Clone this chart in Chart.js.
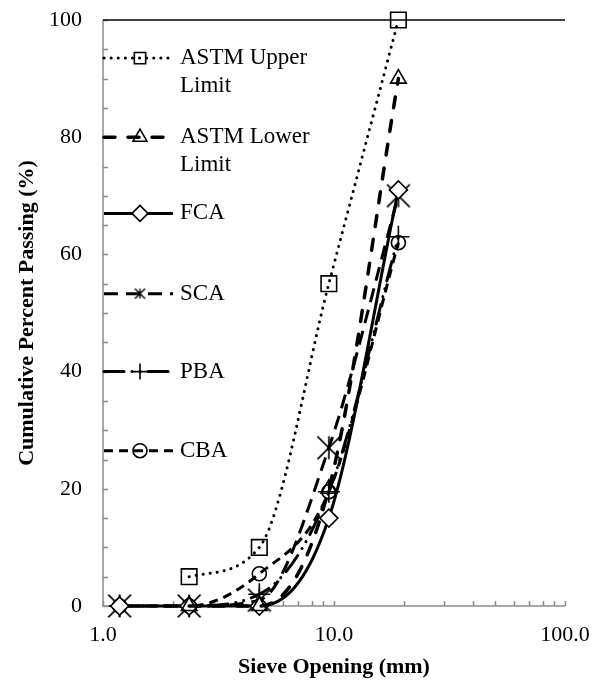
<!DOCTYPE html>
<html>
<head>
<meta charset="utf-8">
<script src="https://cdn.jsdelivr.net/npm/chart.js@4/dist/chart.umd.min.js"></script>
<style>
  html, body { margin: 0; padding: 0; background: #fff; }
</style>
</head>
<body>
<canvas id="sieveChart" width="610" height="686"></canvas>
<script>
// sieve openings (mm) and cumulative percent passing per aggregate
const sieveSizes = [1.18, 2.36, 4.75, 9.5, 19];
const astmUpper = [null, 5, 10, 55, 100];
const astmLower = [null, 0, 0, 20, 90];
const fca = [0, 0, 0, 15, 71];
const sca = [0, 0, 1, 27, 70];
const pba = [0, 0, 2, 19.5, 63];
const cba = [0, 0, 5.5, 19.5, 62];
const seriesNames = ['ASTM Upper Limit', 'ASTM Lower Limit', 'FCA', 'SCA', 'PBA', 'CBA'];
const yLabels = [0, 20, 40, 60, 80, 100];
const xLabels = [1, 10, 100];

const serif = "'Liberation Serif', 'Times New Roman', serif";
Chart.defaults.font.family = serif;
Chart.defaults.font.size = 22;
Chart.defaults.color = '#000';

const toPoints = vals => sieveSizes
  .map((s, i) => ({ x: s, y: vals[i] }))
  .filter(p => p.y !== null);

// Excel style star marker: X with a vertical stroke
const makeStar = (size, lw) => {
  const c = document.createElement('canvas');
  c.width = size; c.height = size;
  const g = c.getContext('2d');
  g.strokeStyle = '#000';
  g.lineWidth = lw;
  const m = lw;
  g.beginPath();
  g.moveTo(m, m); g.lineTo(size - m, size - m);
  g.moveTo(size - m, m); g.lineTo(m, size - m);
  g.moveTo(size / 2, m); g.lineTo(size / 2, size - m);
  g.stroke();
  return c;
};
const starBig = makeStar(26, 1.6);
const starSmall = makeStar(13, 1.4);

const base = {
  borderColor: '#000',
  pointBorderColor: '#000',
  pointBackgroundColor: 'rgba(0,0,0,0)',
  pointBorderWidth: 1.6,
  cubicInterpolationMode: 'monotone',
  clip: false,
  showLine: true
};

const datasets = [
  { ...base, label: seriesNames[0], data: toPoints(astmUpper), borderWidth: 3,
    borderDash: [0.1, 7], borderCapStyle: 'round', pointStyle: 'rect', pointRadius: 11 },
  { ...base, label: seriesNames[1], data: toPoints(astmLower), borderWidth: 3.5,
    borderDash: [11, 13], borderCapStyle: 'round', pointStyle: 'triangle', pointRadius: 9 },
  { ...base, label: seriesNames[2], data: toPoints(fca), borderWidth: 3,
    pointStyle: 'rectRot', pointRadius: 9, pointBackgroundColor: '#fff' },
  { ...base, label: seriesNames[3], data: toPoints(sca), borderWidth: 3,
    borderDash: [14, 8], pointStyle: starBig, pointRadius: 13 },
  { ...base, label: seriesNames[4], data: toPoints(pba), borderWidth: 3,
    borderDash: [20, 8, 0.1, 8, 0.1, 8], borderCapStyle: 'round', pointStyle: 'cross', pointRadius: 11 },
  { ...base, label: seriesNames[5], data: toPoints(cba), borderWidth: 3,
    borderDash: [9, 6], pointStyle: 'circle', pointRadius: 7 }
];

const isDecade = v => Math.abs(Math.log10(v) - Math.round(Math.log10(v))) < 1e-9;

// axis lines and inward tick marks
const axisFrame = {
  id: 'axisFrame',
  beforeDatasetsDraw(chart) {
    const { ctx, chartArea: a, scales: { x, y } } = chart;
    ctx.save();
    ctx.strokeStyle = '#8c8c8c';
    ctx.lineWidth = 1.5;
    ctx.beginPath();
    for (let v = 0; v <= 100; v += 5) {
      const py = Math.round(y.getPixelForValue(v)) + 0.5;
      ctx.moveTo(a.left, py); ctx.lineTo(a.left + 5, py);
    }
    for (let d = 1; d < 100; d *= 10) {
      for (let k = 1; k <= 10; k++) {
        const px = Math.round(x.getPixelForValue(d * k)) + 0.5;
        ctx.moveTo(px, a.bottom); ctx.lineTo(px, a.bottom - 5);
      }
    }
    ctx.stroke();
    ctx.beginPath();
    ctx.moveTo(a.left, a.top); ctx.lineTo(a.left, a.bottom); ctx.lineTo(a.right, a.bottom);
    ctx.stroke();
    ctx.strokeStyle = '#000';
    ctx.beginPath();
    ctx.moveTo(a.left, a.top); ctx.lineTo(a.right, a.top);
    ctx.stroke();
    ctx.restore();
  }
};

// legend drawn inside the plot, Excel style (line sample + marker + wrapped text)
const legendRows = [
  { lines: ['ASTM Upper', 'Limit'], at: 93.5 },
  { lines: ['ASTM Lower', 'Limit'], at: 80 },
  { lines: ['FCA'], at: 67 },
  { lines: ['SCA'], at: 53.3 },
  { lines: ['PBA'], at: 40 },
  { lines: ['CBA'], at: 26.5 }
];
const insideLegend = {
  id: 'insideLegend',
  afterDatasetsDraw(chart) {
    const { ctx, chartArea: a, scales: { y } } = chart;
    const x0 = a.left + 1, x1 = a.left + 70, xm = a.left + 37, xt = a.left + 77;
    ctx.save();
    legendRows.forEach((row, i) => {
      const ds = chart.data.datasets[i];
      const ry = y.getPixelForValue(row.at);
      ctx.strokeStyle = '#000';
      ctx.lineWidth = ds.borderWidth;
      ctx.lineCap = ds.borderCapStyle || 'butt';
      ctx.setLineDash(ds.borderDash || []);
      ctx.beginPath();
      ctx.moveTo(x0, ry); ctx.lineTo(x1, ry);
      ctx.stroke();
      ctx.setLineDash([]);
      ctx.lineCap = 'butt';
      if (ds.pointStyle === starBig) {
        ctx.drawImage(starSmall, xm - 6.5, ry - 6.5);
      } else {
        ctx.fillStyle = ds.pointBackgroundColor;
        ctx.lineWidth = 1.6;
        Chart.helpers.drawPoint(ctx, {
          pointStyle: ds.pointStyle, radius: Math.min(ds.pointRadius, 8), rotation: 0, borderWidth: 1.6
        }, xm, ry);
      }
      ctx.fillStyle = '#000';
      ctx.font = '23px ' + serif;
      ctx.textBaseline = 'middle';
      ctx.textAlign = 'left';
      row.lines.forEach((t, j) => ctx.fillText(t, xt, ry + j * 28));
    });
    ctx.restore();
  }
};

new Chart(document.getElementById('sieveChart'), {
  type: 'scatter',
  data: { datasets },
  plugins: [axisFrame, insideLegend],
  options: {
    responsive: false,
    animation: false,
    devicePixelRatio: 1,
    layout: { autoPadding: false, padding: { left: 0, right: 45, top: 20, bottom: 0 } },
    plugins: { legend: { display: false }, tooltip: { enabled: false } },
    scales: {
      x: {
        type: 'logarithmic',
        min: 1,
        max: 100,
        grid: { display: false, drawTicks: false, tickLength: 0 },
        border: { display: false },
        afterFit: s => { s.height = 80; },
        ticks: {
          autoSkip: false,
          maxRotation: 0,
          padding: 16,
          callback: v => (xLabels.includes(v) || isDecade(v)) ? Number(v).toFixed(1) : ''
        },
        title: { display: true, text: 'Sieve Opening (mm)', font: { weight: 'bold', size: 22 }, padding: { top: 0, bottom: 5 } }
      },
      y: {
        min: 0,
        max: 100,
        // tick marks are drawn by axisFrame; the hidden tick length only pushes labels out
        grid: { display: false, drawTicks: true, tickLength: 15 },
        border: { display: false },
        afterFit: s => { s.width = 103; },
        ticks: {
          stepSize: 5,
          autoSkip: false,
          padding: 6,
          callback: v => yLabels.includes(v) ? String(v) : ''
        },
        title: { display: true, text: 'Cumulative Percent Passing (%)', font: { weight: 'bold', size: 22 }, padding: { top: 14, bottom: 0 } }
      }
    }
  }
});
</script>
</body>
</html>
